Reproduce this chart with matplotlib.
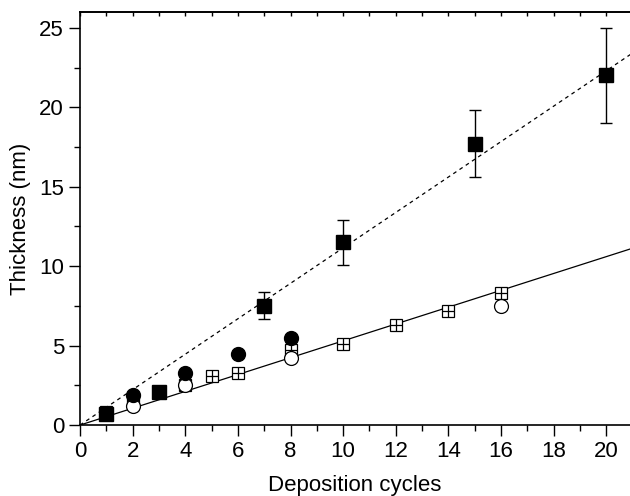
import matplotlib
matplotlib.use('Agg')
import matplotlib.pyplot as plt
import numpy as np

plt.rcParams['font.family'] = ['Liberation Sans', 'DejaVu Sans']
plt.rcParams['font.size'] = 16

# filled squares with error bars
sq_x = [1, 3, 7, 10, 15, 20]
sq_y = [0.7, 2.1, 7.5, 11.5, 17.7, 22.0]
sq_err = [0.2, 0.1, 0.85, 1.4, 2.1, 3.0]

# filled circles
fc_x = [2, 4, 6, 8]
fc_y = [1.9, 3.3, 4.5, 5.5]

# open circles
oc_x = [2, 4, 8, 16]
oc_y = [1.2, 2.5, 4.2, 7.5]

# open squares with cross
os_x = [1, 2, 4, 5, 6, 8, 10, 12, 14, 16]
os_y = [0.8, 1.6, 2.5, 3.1, 3.3, 4.7, 5.1, 6.3, 7.2, 8.3]

# linear fits through origin
slope_dash = 1.115
slope_solid = 0.53

fig = plt.figure(figsize=(6.3, 4.96), dpi=100)
ax = fig.add_axes([0.127, 0.143, 0.873, 0.833])

xl = np.array([0, 21])
ax.plot(xl, slope_dash * xl, color='black', linestyle=(0, (3, 3)), linewidth=0.9)
ax.plot(xl, slope_solid * xl, color='black', linestyle='-', linewidth=0.9)

ax.plot(os_x, os_y, 's', mfc='white', mec='black', ms=9, mew=0.9, linestyle='none')
ax.plot(os_x, os_y, '+', color='black', ms=9, mew=0.9, linestyle='none')
ax.plot(oc_x, oc_y, 'o', mfc='white', mec='black', ms=10, mew=0.9, linestyle='none')
ax.plot(fc_x, fc_y, 'o', color='black', ms=10, linestyle='none')
ax.errorbar(sq_x, sq_y, yerr=sq_err, fmt='s', color='black', ms=10,
            ecolor='black', elinewidth=1, capsize=4)

ax.set_xlim(0, 20.9)
ax.set_ylim(0, 26)
ax.set_xticks(np.arange(0, 21, 2))
ax.set_xticks(np.arange(0, 21, 1), minor=True)
ax.set_yticks(np.arange(0, 26, 5))
ax.set_yticks(np.arange(0, 26, 2.5), minor=True)
ax.tick_params(which='major', direction='out', length=8, width=1)
ax.tick_params(which='minor', direction='out', length=4, width=1)
ax.spines['right'].set_visible(False)
for s in ax.spines.values():
    s.set_linewidth(1.2)

# inward ticks along the top spine
top = ax.secondary_xaxis('top')
top.set_xticks(np.arange(0, 21, 1))
top.tick_params(direction='in', length=3, width=1, labeltop=False)
top.spines['top'].set_linewidth(1.2)

ax.set_xlabel('Deposition cycles', labelpad=9)
ax.set_ylabel('Thickness (nm)', labelpad=6)

fig.savefig('out.png', dpi=100)
